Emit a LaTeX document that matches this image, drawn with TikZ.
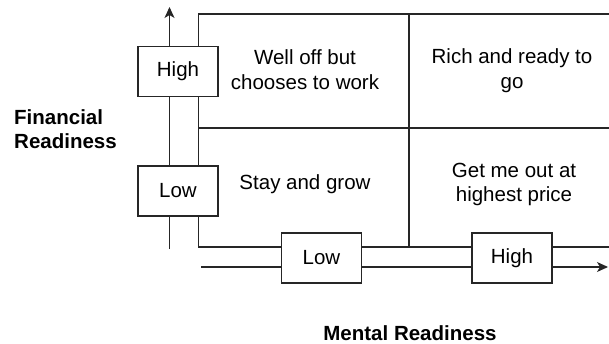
\documentclass[tikz,border=0pt]{standalone}
\usepackage{fontspec}
\setmainfont{Liberation Sans}
\usetikzlibrary{arrows.meta}
\begin{document}
\begin{tikzpicture}[x=1pt,y=-1pt,
  line/.style={line width=1.1pt, black!85},
  tip/.style={-{Stealth[length=11pt,width=10pt,inset=3pt]}},
  axisbox/.style={draw=black!85, line width=1.1pt, fill=white, minimum width=80pt,
    minimum height=50pt, inner sep=0pt, font=\fontsize{20.5}{24.5}\selectfont},
  cell/.style={align=center, inner sep=0pt, font=\fontsize{20.5}{24.5}\selectfont},
  axislabel/.style={align=left, inner sep=0pt, font=\fontsize{20.5}{24.5}\selectfont\bfseries}]
\useasboundingbox (0,0) rectangle (609,344);

% axis and grid corner points
\coordinate (vbot) at (169.5,249);
\coordinate (vtop) at (169.5,7);
\coordinate (hstart) at (201,267);
\coordinate (hend) at (608,267);
\coordinate (gtl) at (198.7,14);
\coordinate (gtr) at (609,14);
\coordinate (gml) at (198.7,128);
\coordinate (gmr) at (609,128);
\coordinate (gbl) at (198.7,247);
\coordinate (gbr) at (609,247);
\coordinate (gmt) at (409,14);
\coordinate (gmb) at (409,247);

% axes
\draw[line, tip] (vbot) -- (vtop);
\draw[line, tip] (hstart) -- (hend);

% quadrant grid
\draw[line] (gtr) -- (gtl) -- (gbl) -- (gbr);
\draw[line] (gml) -- (gmr);
\draw[line] (gmt) -- (gmb);

% scale boxes on the axes
\node[axisbox] (fhigh) at (178,71.5) {High};
\node[axisbox] (flow) at (178,191) {Low};
\node[axisbox] (mlow) at (321.5,258) {Low};
\node[axisbox] (mhigh) at (512,258) {High};

% quadrant texts (base anchor sits on the last line)
\node[cell, anchor=base] (q1) at (305,89.5) {Well off but\\chooses to work};
\node[cell, anchor=base] (q2) at (512,88.5) {Rich and ready to\\go};
\node[cell, anchor=base] (q3) at (305,190) {Stay and grow};
\node[cell, anchor=base] (q4) at (514,202) {Get me out at\\highest price};

% axis titles
\node[axislabel, anchor=base west] (ylab) at (14,149) {Financial\\Readiness};
\node[axislabel, anchor=base] (xlab) at (410,340) {Mental Readiness};
\end{tikzpicture}
\end{document}
